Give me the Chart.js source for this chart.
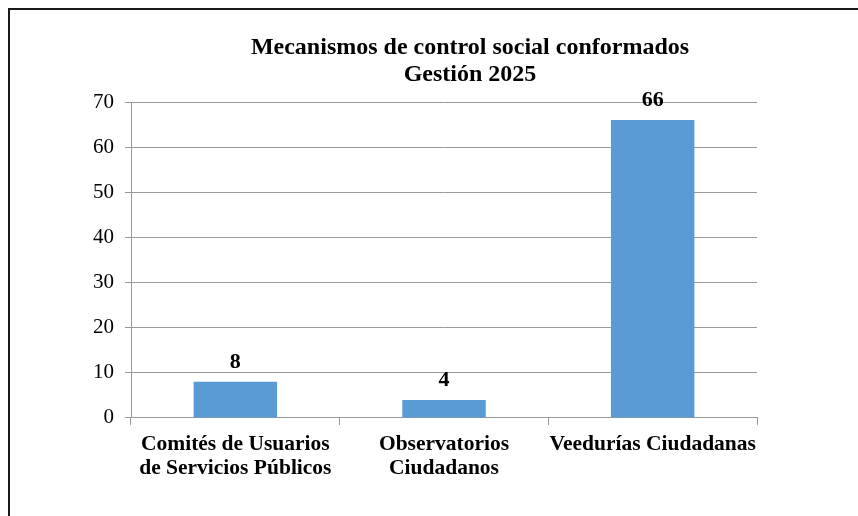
<!DOCTYPE html>
<html lang="es">
<head>
<meta charset="utf-8">
<title>Mecanismos de control social conformados</title>
<script src="https://cdn.jsdelivr.net/npm/chart.js@4.4.1/dist/chart.umd.min.js"></script>
<style>
  html, body { margin: 0; padding: 0; background: #fff; }
  .frame {
    position: relative;
    width: 858px;
    height: 516px;
    overflow: hidden;
  }
  /* top/left edge of the framed figure */
  .frame::before {
    content: '';
    position: absolute;
    left: 8px;
    top: 8px;
    right: 0;
    bottom: 0;
    border-top: 2px solid #1a1a1a;
    border-left: 2px solid #1a1a1a;
    pointer-events: none;
  }
  canvas { display: block; }
</style>
</head>
<body>
<div class="frame">
  <canvas id="mecanismosChart" width="858" height="516"></canvas>
</div>
<script>
// ---- data ----
const categories = [
  ['Comités de Usuarios', 'de Servicios Públicos'],
  ['Observatorios', 'Ciudadanos'],
  'Veedurías Ciudadanas'
];
const valores = [8, 4, 66];
const yTicks = [0, 10, 20, 30, 40, 50, 60, 70];
const titleLines = ['Mecanismos de control social conformados', 'Gestión 2025'];

const SERIF = "'Liberation Serif', 'Times New Roman', serif";
const GRID = '#999999';

// value labels above each bar
const barValueLabels = {
  id: 'barValueLabels',
  afterDatasetsDraw(chart) {
    const { ctx } = chart;
    const meta = chart.getDatasetMeta(0);
    const data = chart.data.datasets[0].data;
    ctx.save();
    ctx.font = 'bold 22px ' + SERIF;
    ctx.fillStyle = '#000';
    ctx.textAlign = 'center';
    ctx.textBaseline = 'alphabetic';
    meta.data.forEach((bar, i) => {
      ctx.fillText(String(data[i]), bar.x, bar.y - 14);
    });
    ctx.restore();
  }
};

// title sits a little right of the plot centre
const titleShift = {
  id: 'titleShift',
  afterLayout(chart) {
    const t = chart.titleBlock;
    if (!t) return;
    const dx = 470 - (t.left + t.right) / 2;
    t.left += dx;
    t.right += dx;
  }
};

const ctx = document.getElementById('mecanismosChart').getContext('2d');
new Chart(ctx, {
  type: 'bar',
  data: {
    labels: categories,
    datasets: [{
      data: valores,
      backgroundColor: '#5b9bd5',
      borderWidth: 0,
      barPercentage: 0.4,
      categoryPercentage: 1.0
    }]
  },
  options: {
    responsive: false,
    animation: false,
    layout: {
      padding: { left: 82, right: 101, top: 0, bottom: 28 }
    },
    plugins: {
      legend: { display: false },
      tooltip: { enabled: false },
      title: {
        display: true,
        text: titleLines,
        color: '#000',
        font: { family: SERIF, size: 24, weight: 'bold', lineHeight: 1.125 },
        padding: { top: 34, bottom: 14 }
      }
    },
    scales: {
      x: {
        grid: {
          display: true,
          drawOnChartArea: false,
          offset: true,
          color: GRID,
          tickLength: 7
        },
        border: { color: GRID, width: 1 },
        ticks: {
          color: '#000',
          maxRotation: 0,
          autoSkip: false,
          padding: 7,
          font: { family: SERIF, size: 21.5, weight: 'bold', lineHeight: 1.14 }
        }
      },
      y: {
        min: 0,
        max: 70,
        afterBuildTicks(axis) {
          axis.ticks = yTicks.map(v => ({ value: v }));
        },
        grid: {
          color: GRID,
          tickLength: 6
        },
        border: { color: GRID, width: 1 },
        ticks: {
          color: '#000',
          padding: 11,
          font: { family: SERIF, size: 21 }
        }
      }
    }
  },
  plugins: [barValueLabels, titleShift]
});
</script>
</body>
</html>
